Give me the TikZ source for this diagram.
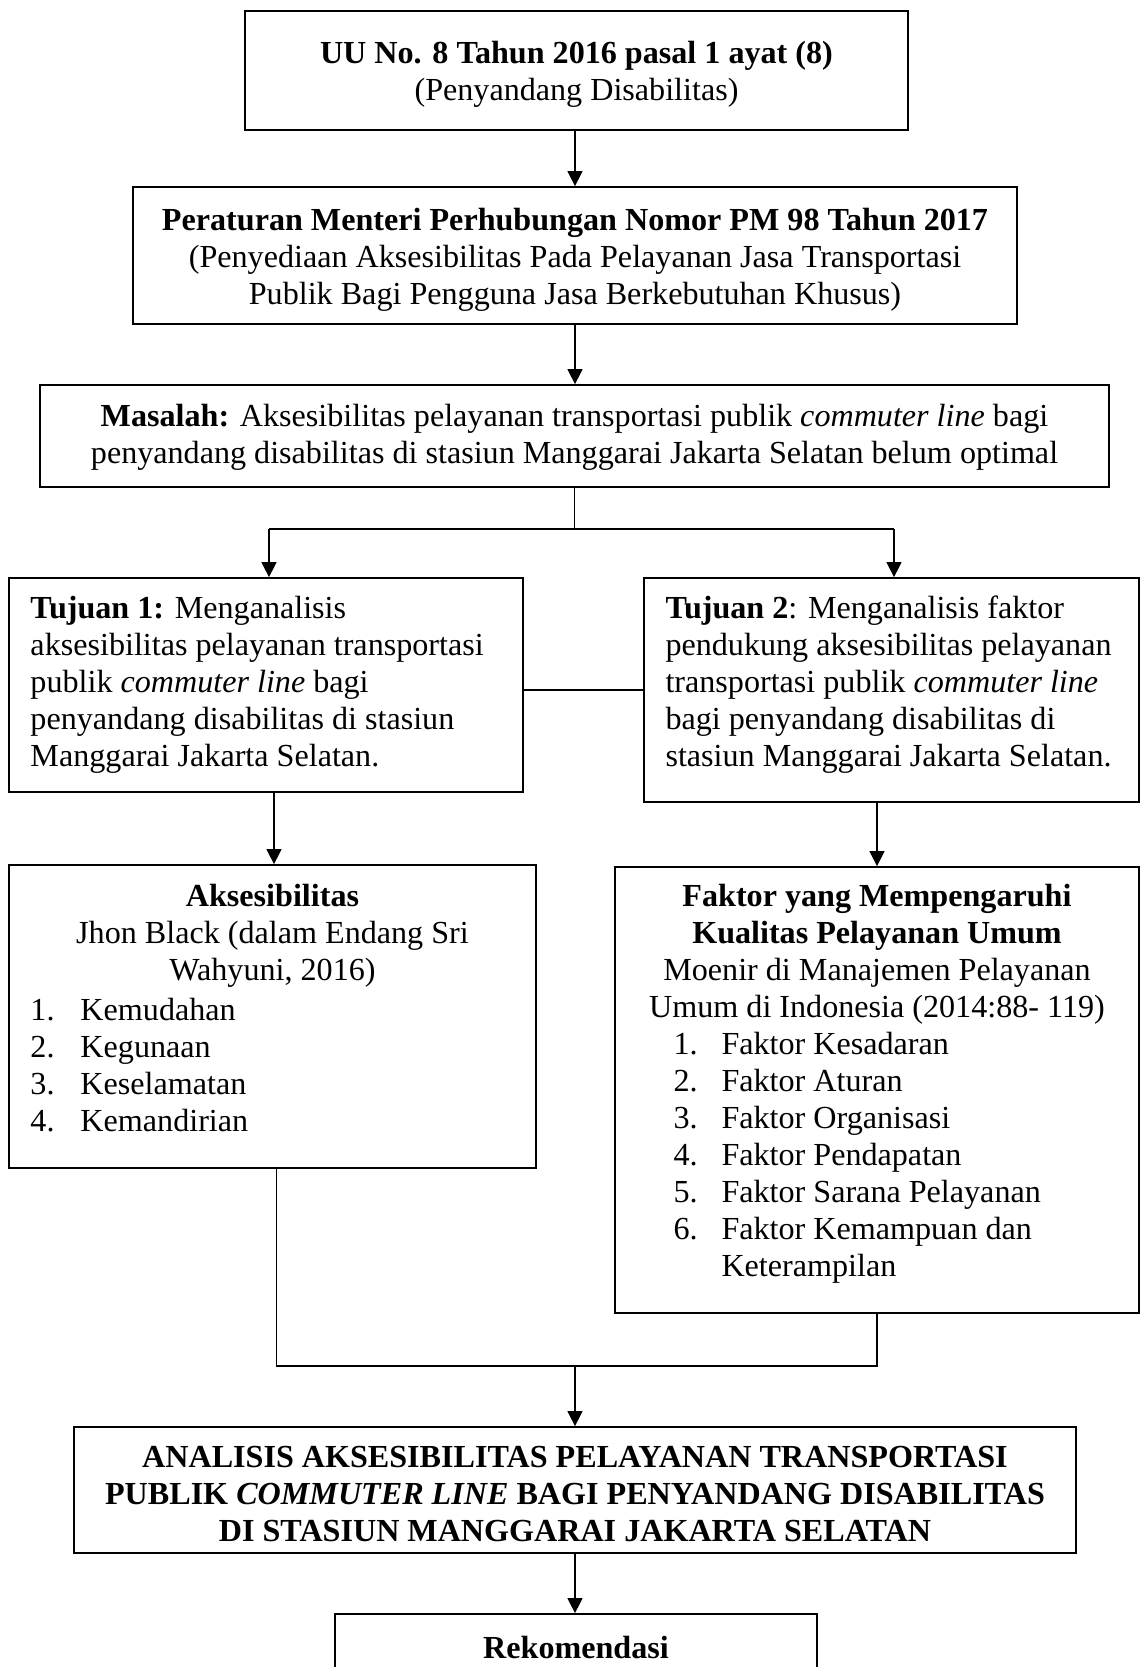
\documentclass[tikz,border=0pt]{standalone}
\usepackage{fontspec}
\setmainfont{Liberation Serif}
\usetikzlibrary{arrows.meta,calc}
\begin{document}
\begin{tikzpicture}[x=0.4pt,y=-0.4pt,
  box/.style={draw, line width=0.7pt, inner sep=0pt},
  txt/.style={inner sep=0pt, font=\fontsize{12.85pt}{14.8pt}\selectfont},
  arr/.style={-{Triangle[length=6pt,width=6pt]}, line width=0.5pt},
  ln/.style={line width=0.5pt}]
\useasboundingbox (0,0) rectangle (1141,1667);
\clip (0,0) rectangle (1141,1667);
% boxes
\node[box, minimum width={663*0.4pt}, minimum height={119*0.4pt}] (b1) at (576.5,70.5) {};
\node[box, minimum width={884*0.4pt}, minimum height={137*0.4pt}] (b2) at (575,255.5) {};
\node[box, minimum width={1069*0.4pt}, minimum height={102*0.4pt}] (b3) at (574.5,436) {};
\node[box, minimum width={514*0.4pt}, minimum height={214*0.4pt}] (b4) at (266,685) {};
\node[box, minimum width={495*0.4pt}, minimum height={224*0.4pt}] (b5) at (891.5,690) {};
\node[box, minimum width={527*0.4pt}, minimum height={303*0.4pt}] (b6) at (272.5,1016.5) {};
\node[box, minimum width={524*0.4pt}, minimum height={446*0.4pt}] (b7) at (877,1090) {};
\node[box, minimum width={1002*0.4pt}, minimum height={126*0.4pt}] (b8) at (575,1490) {};
\node[box, minimum width={482*0.4pt}, minimum height={106*0.4pt}] (b9) at (576,1667) {};
% texts
\node[txt, align=center] (t1) at (576.5,74.5) {\textbf{UU No. 8 Tahun 2016 pasal 1 ayat (8)}\\(Penyandang Disabilitas)};
\node[txt, align=center] (t2) at (575,259.5) {\textbf{Peraturan Menteri Perhubungan Nomor PM 98 Tahun 2017}\\(Penyediaan Aksesibilitas Pada Pelayanan Jasa Transportasi\\Publik Bagi Pengguna Jasa Berkebutuhan Khusus)};
\node[txt, align=center] (t3) at (574.5,437.5) {\textbf{Masalah:} Aksesibilitas pelayanan transportasi publik \textit{commuter line} bagi\\penyandang disabilitas di stasiun Manggarai Jakarta Selatan belum optimal};
\node[txt, align=left, anchor=west] (t4) at (30,685) {\textbf{Tujuan 1:} Menganalisis\\aksesibilitas pelayanan transportasi\\publik \textit{commuter line} bagi\\penyandang disabilitas di stasiun\\Manggarai Jakarta Selatan.};
\node[txt, align=left, anchor=west] (t5) at (665,685) {\textbf{Tujuan 2}: Menganalisis faktor\\pendukung aksesibilitas pelayanan\\transportasi publik \textit{commuter line}\\bagi penyandang disabilitas di\\stasiun Manggarai Jakarta Selatan.};
\node[txt, align=center] (t6a) at (272.5,936) {\textbf{Aksesibilitas}\\Jhon Black (dalam Endang Sri\\Wahyuni, 2016)};
\node[txt, align=left, anchor=west] (t6b) at (30,1065.5) {\makebox[20pt][l]{1.}Kemudahan\\\makebox[20pt][l]{2.}Kegunaan\\\makebox[20pt][l]{3.}Keselamatan\\\makebox[20pt][l]{4.}Kemandirian};
\node[txt, align=center] (t7a) at (877,954.5) {\textbf{Faktor yang Mempengaruhi}\\\textbf{Kualitas Pelayanan Umum}\\Moenir di Manajemen Pelayanan\\Umum di Indonesia (2014:88- 119)};
\node[txt, align=left, anchor=west] (t7b) at (673,1158) {\makebox[19.2pt][l]{1.}Faktor Kesadaran\\\makebox[19.2pt][l]{2.}Faktor Aturan\\\makebox[19.2pt][l]{3.}Faktor Organisasi\\\makebox[19.2pt][l]{4.}Faktor Pendapatan\\\makebox[19.2pt][l]{5.}Faktor Sarana Pelayanan\\\makebox[19.2pt][l]{6.}Faktor Kemampuan dan\\\hspace*{19.2pt}Keterampilan};
\node[txt, align=center] (t8) at (575,1494.5) {\textbf{ANALISIS AKSESIBILITAS PELAYANAN TRANSPORTASI}\\\textbf{PUBLIK \textit{COMMUTER LINE} BAGI PENYANDANG DISABILITAS}\\\textbf{DI STASIUN MANGGARAI JAKARTA SELATAN}};
\node[txt] (t9) at (576,1647) {\textbf{Rekomendasi}};
% connectors
\draw[arr] (b1.south -| b2.north) -- (b2.north);
\draw[arr] (b2.south) -- (b2.south |- b3.north);
\coordinate (sl) at (269,529);
\coordinate (sr) at (894,529);
\draw[ln] (b3.south) -- (b3.south |- sl);
\draw[ln] (sl) -- (sr);
\draw[arr] (sl) -- (sl |- b4.north);
\draw[arr] (sr) -- (sr |- b5.north);
\draw[ln] (b4.east |- b5.west) -- (b5.west);
\draw[arr] ($(b4.south)+(8,0)$) -- ($(b4.south |- b6.north)+(8,0)$);
\draw[arr] (b5.south -| b7.north) -- (b7.north);
\coordinate (m) at (575,1366);
\draw[ln] ($(b6.south)+(4,0)$) |- (b7.south |- m) -- (b7.south);
\draw[arr] (m) -- (m |- b8.north);
\draw[arr] (b8.south) -- (b8.south |- b9.north);
\end{tikzpicture}
\end{document}
